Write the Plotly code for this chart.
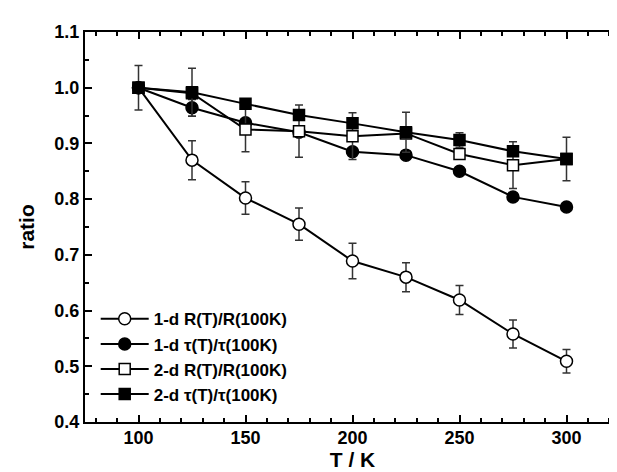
import plotly.graph_objects as go

T = [100, 125, 150, 175, 200, 225, 250, 275, 300]

r1d = [1.0, 0.870, 0.802, 0.755, 0.689, 0.660, 0.619, 0.558, 0.509]
r1d_err = [0.04, 0.035, 0.029, 0.029, 0.032, 0.026, 0.026, 0.025, 0.021]

tau1d = [1.0, 0.964, 0.937, 0.920, 0.885, 0.879, 0.850, 0.804, 0.786]
tau1d_err = [0, 0.015, 0, 0, 0, 0, 0, 0, 0]

r2d = [1.0, 0.990, 0.925, 0.922, 0.913, 0.918, 0.881, 0.861, 0.872]
r2d_err = [0, 0, 0.04, 0.047, 0.042, 0, 0, 0.042, 0]

tau2d = [1.0, 0.992, 0.971, 0.951, 0.936, 0.920, 0.906, 0.886, 0.872]
tau2d_err = [0, 0.043, 0, 0, 0, 0.036, 0.013, 0, 0.039]

names = ["1-d R(T)/R(100K)", "1-d τ(T)/τ(100K)", "2-d R(T)/R(100K)", "2-d τ(T)/τ(100K)"]

FONT = "Liberation Sans, Arial, sans-serif"

series = [
    (r1d, r1d_err, "circle", "white", 12),
    (tau1d, tau1d_err, "circle", "black", 12),
    (r2d, r2d_err, "square", "white", 11),
    (tau2d, tau2d_err, "square", "black", 11),
]

fig = go.Figure()
for i, (vals, err, sym, fill, sz) in enumerate(series):
    fig.add_trace(go.Scatter(
        x=T, y=vals, name=names[i], mode="lines+markers",
        legendgroup=f"g{i}",
        line=dict(color="black", width=2),
        marker=dict(symbol=sym, size=sz, color=fill, line=dict(color="black", width=1.5)),
        error_y=dict(type="data", array=err, visible=True, color="#333333", thickness=1.5, width=4),
    ))

axis_common = dict(
    showline=True, linecolor="black", linewidth=2, mirror="allticks",
    ticks="inside", ticklen=7, tickwidth=1.5, tickcolor="black",
    showgrid=False, zeroline=False,
    tickfont=dict(family=FONT, size=18, color="black", weight="bold"),
)

fig.update_layout(
    width=617, height=472,
    margin=dict(l=77, r=3, t=24, b=58),
    paper_bgcolor="white", plot_bgcolor="white",
    showlegend=True,
    legend=dict(x=0.02, y=0.025, xanchor="left", yanchor="bottom",
                bgcolor="rgba(0,0,0,0)", tracegroupgap=0, itemwidth=48,
                font=dict(family=FONT, size=17, color="black", weight="bold")),
    xaxis=dict(range=[75, 325], tickvals=[100, 150, 200, 250, 300],
               ticklabelstandoff=-2,
               minor=dict(dtick=10, tick0=0, ticks="inside", ticklen=4, tickwidth=1.5, tickcolor="black"),
               title=dict(text="T / K", font=dict(family=FONT, size=21, color="black", weight="bold"), standoff=0),
               **axis_common),
    yaxis=dict(range=[0.4, 1.1], tickvals=[0.4, 0.5, 0.6, 0.7, 0.8, 0.9, 1.0, 1.1],
               ticktext=["0.4", "0.5", "0.6", "0.7", "0.8", "0.9", "1.0", "1.1"],
               minor=dict(dtick=0.05, tick0=0, ticks="inside", ticklen=4, tickwidth=1.5, tickcolor="black"),
               title=dict(text="ratio", font=dict(family=FONT, size=21, color="black", weight="bold"), standoff=14),
               **axis_common),
)

fig.write_html("out.html")
